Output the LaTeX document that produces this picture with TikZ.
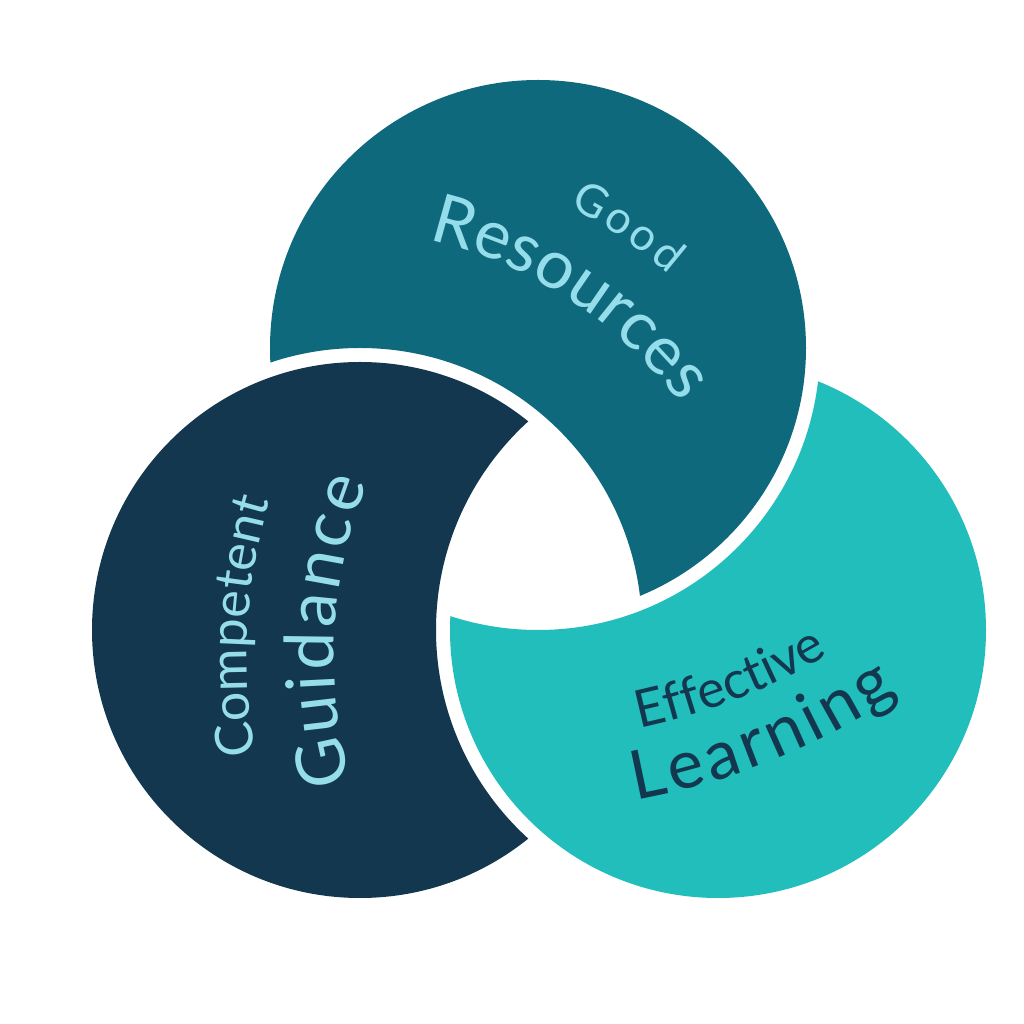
\documentclass[tikz,border=0pt]{standalone}
\usepackage{fontspec}
\setmainfont{Lato}
\usetikzlibrary{decorations.text}
\definecolor{tealc}{HTML}{0F697D}
\definecolor{navyc}{HTML}{12374F}
\definecolor{cyanc}{HTML}{21BEBC}
\definecolor{lightc}{HTML}{96DDEB}
\newcommand{\bigtxt}{\fontsize{34}{40}\selectfont}
\newcommand{\smalltxt}{\fontsize{26}{31}\selectfont}
\newcommand{\goodtxt}{\fontsize{22.5}{27}\selectfont}
\tikzset{
  arctext/.style={decorate, decoration={text along path, text align=center, text={#1}}},
  fittext/.style={decorate, decoration={text along path, text align=fit to path, text={#1}}}
}
\begin{document}
\begin{tikzpicture}[x=0.5pt,y=0.5pt]
\useasboundingbox (0,0) rectangle (1024,1024);
\fill[white] (0,0) rectangle (1024,1024);
% circle centres
\coordinate (T) at (538,676);
\coordinate (N) at (360,394);
\coordinate (C) at (718,394);
% teal (top) circle, cut by navy circle
\begin{scope}
  \clip (T) circle[radius=268];
  \fill[tealc, even odd rule] (0,0) rectangle (1024,1024) (N) circle[radius=282];
\end{scope}
% navy (left) circle, cut by cyan circle
\begin{scope}
  \clip (N) circle[radius=268];
  \fill[navyc, even odd rule] (0,0) rectangle (1024,1024) (C) circle[radius=282];
\end{scope}
% cyan (right) circle, cut by teal circle
\begin{scope}
  \clip (C) circle[radius=268];
  \fill[cyanc, even odd rule] (0,0) rectangle (1024,1024) (T) circle[radius=282];
\end{scope}
% text arc centres
\coordinate (GR) at (332,360);
\coordinate (CG) at (807,366);
\coordinate (EL) at (510,907);
% Good Resources
\path[fittext={|\goodtxt\color{lightc}|Good}] (GR) ++(62.5:515) arc[start angle=62.5, end angle=49.2, radius=515];
\path[arctext={|\bigtxt\color{lightc}|Resources}] (GR) ++(102:435) arc[start angle=102, end angle=12, radius=435];
% Competent Guidance
\path[arctext={|\smalltxt\color{lightc}|Competent}] (CG) ++(211.8:560) arc[start angle=211.8, end angle=141.8, radius=560];
\path[fittext={|\bigtxt\color{lightc}|Guidance}] (CG) ++(195.3:473) arc[start angle=195.3, end angle=158.3, radius=473];
% Effective Learning
\path[arctext={|\smalltxt\color{navyc}|Effective}] (EL) ++(-103.7:625) arc[start angle=-103.7, end angle=-33.7, radius=625];
\path[fittext={|\bigtxt\color{navyc}|Learning}] (EL) ++(-79.6:695) arc[start angle=-79.6, end angle=-56.0, radius=695];
\end{tikzpicture}
\end{document}
